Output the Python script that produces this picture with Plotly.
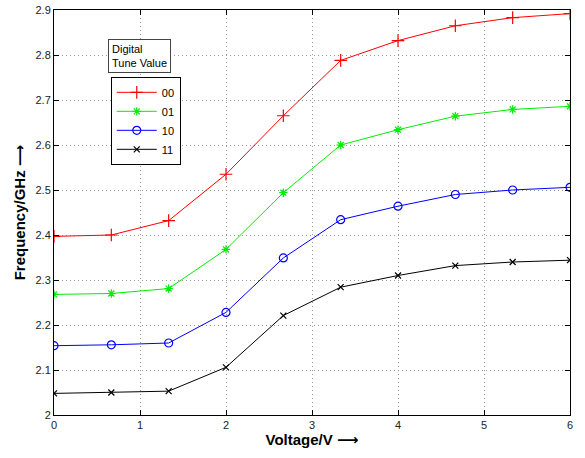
import plotly.graph_objects as go

voltage = [0, 2/3, 4/3, 2, 8/3, 10/3, 4, 14/3, 16/3, 6]
freq_00 = [2.397, 2.400, 2.432, 2.535, 2.665, 2.788, 2.832, 2.865, 2.883, 2.892]
freq_01 = [2.268, 2.270, 2.281, 2.368, 2.494, 2.600, 2.634, 2.664, 2.679, 2.686]
freq_10 = [2.154, 2.156, 2.160, 2.228, 2.349, 2.434, 2.464, 2.490, 2.500, 2.506]
freq_11 = [2.048, 2.050, 2.053, 2.106, 2.221, 2.284, 2.310, 2.332, 2.340, 2.344]

FONT = "Liberation Sans, Arial, sans-serif"
ARROW = "<span style='font-family:DejaVu Sans'>⟶</span>"

series = [
    ("00", freq_00, "#ff0000", "cross-thin-open", 9),
    ("01", freq_01, "#00ee00", "asterisk-open", 7),
    ("10", freq_10, "#0000ff", "circle-open", 8),
    ("11", freq_11, "#000000", "x-thin-open", 6),
]

fig = go.Figure()
for name, vals, col, sym, sz in series:
    fig.add_trace(go.Scatter(
        x=voltage, y=vals, name=name, mode="lines+markers",
        line=dict(color=col, width=1),
        marker=dict(symbol=sym, size=sz, color=col, line=dict(color=col, width=1.2)),
    ))

axis_common = dict(
    showline=True, linecolor="black", linewidth=1, mirror="ticks",
    ticks="inside", ticklen=5, tickcolor="black",
    showgrid=True, gridcolor="#999999", griddash="1px,3px", gridwidth=1,
    zeroline=False, automargin=False,
    tickfont=dict(family=FONT, size=11, color="#222"),
)

fig.update_xaxes(range=[0, 6], dtick=1, **axis_common,
                 title=dict(text=f"<b>Voltage/V {ARROW}</b>", font=dict(family=FONT, size=15, color="black"), standoff=4))
fig.update_yaxes(range=[2, 2.9], dtick=0.1, **axis_common,
                 title=dict(text=f"<b>Frequency/GHz {ARROW}</b>", font=dict(family=FONT, size=15, color="black"), standoff=6))

fig.add_annotation(
    xref="paper", yref="paper", x=0.105, y=0.928, xanchor="left", yanchor="top",
    text="Digital<br>Tune Value", showarrow=False, align="left",
    font=dict(family=FONT, size=11, color="black"),
    bordercolor="#444", borderwidth=1, borderpad=3, bgcolor="white",
)

fig.update_layout(
    width=585, height=458,
    margin=dict(l=54, r=15, t=10, b=43),
    plot_bgcolor="white", paper_bgcolor="white",
    legend=dict(
        x=0.110, y=0.835, xanchor="left", yanchor="top",
        bordercolor="black", borderwidth=1, bgcolor="white",
        font=dict(family=FONT, size=11, color="black"),
        itemwidth=40, tracegroupgap=0,
    ),
)

fig.write_html("out.html", config={"displayModeBar": False},
               post_script="document.body.style.margin='0';document.body.style.overflow='hidden';")
